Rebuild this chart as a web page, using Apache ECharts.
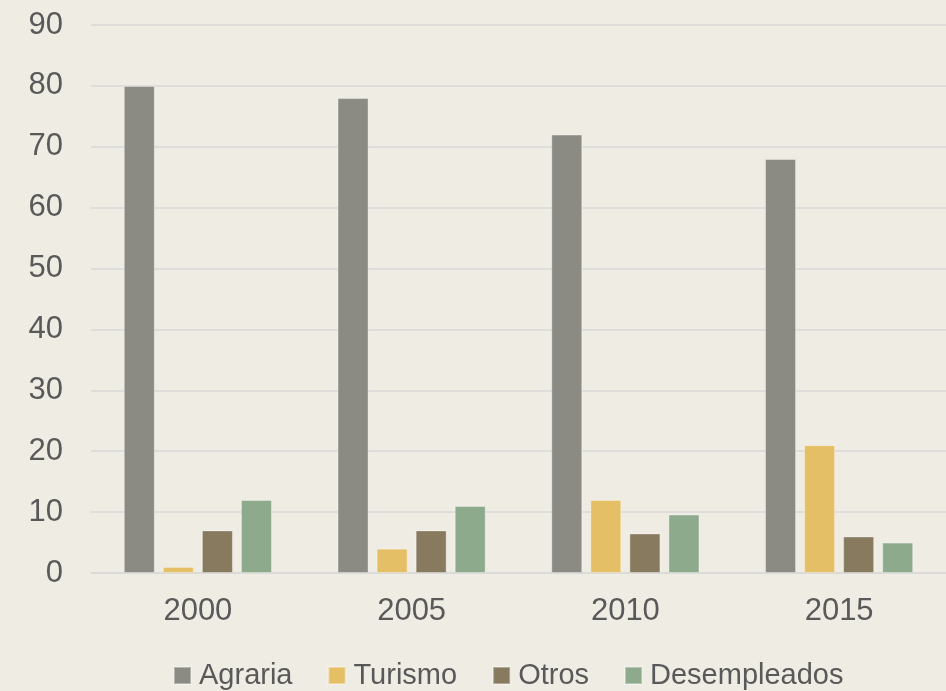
<!DOCTYPE html>
<html><head><meta charset="utf-8">
<script src="https://cdn.jsdelivr.net/npm/echarts@6/dist/echarts.min.js"></script>
<style>html,body{margin:0;padding:0;background:#efece4;}#c{width:946px;height:691px;}</style>
</head><body><div id="c"></div>
<script>
const categories = ['2000','2005','2010','2015'];
const agraria = [80, 78, 72, 68];
const turismo = [1, 4, 12, 21];
const otros = [7, 7, 6.5, 6];
const desempleados = [12, 11, 9.6, 5];
const yTicks = {min: 0, max: 90, interval: 10};

const names = ['Agraria','Turismo','Otros','Desempleados'];
const colors = ['#8b8b84','#e5bf66','#877a5f','#8dab8c'];
const datas = [agraria, turismo, otros, desempleados];

const chart = echarts.init(document.getElementById('c'));
chart.setOption({
  backgroundColor: '#efece4',
  animation: false,
  textStyle: {fontFamily: 'Liberation Sans', color: '#595959'},
  grid: {left: 91, right: 0, top: 25, bottom: 118},
  legend: {
    top: 661, left: 173, itemWidth: 17, itemHeight: 17, itemGap: 35,
    icon: 'rect', padding: 0,
    textStyle: {fontSize: 29, color: '#595959', fontFamily: 'Liberation Sans', padding: [0,0,0,3]},
    data: names
  },
  xAxis: {
    type: 'category', data: categories,
    axisLine: {lineStyle: {color: '#d9d9d9', width: 1.5}},
    axisTick: {show: false},
    axisLabel: {fontSize: 31, color: '#595959', margin: 23}
  },
  yAxis: {
    type: 'value', min: yTicks.min, max: yTicks.max, interval: yTicks.interval,
    axisLine: {show: false}, axisTick: {show: false},
    splitLine: {lineStyle: {color: '#d9d9d9', width: 1.5}},
    axisLabel: {fontSize: 31, color: '#595959', margin: 28}
  },
  series: names.map((n, i) => ({
    name: n, type: 'bar', data: datas[i],
    barWidth: 31, barGap: '26%',
    itemStyle: {color: colors[i], borderColor: 'rgba(255,255,255,0.35)', borderWidth: 1}
  }))
});
</script></body></html>
